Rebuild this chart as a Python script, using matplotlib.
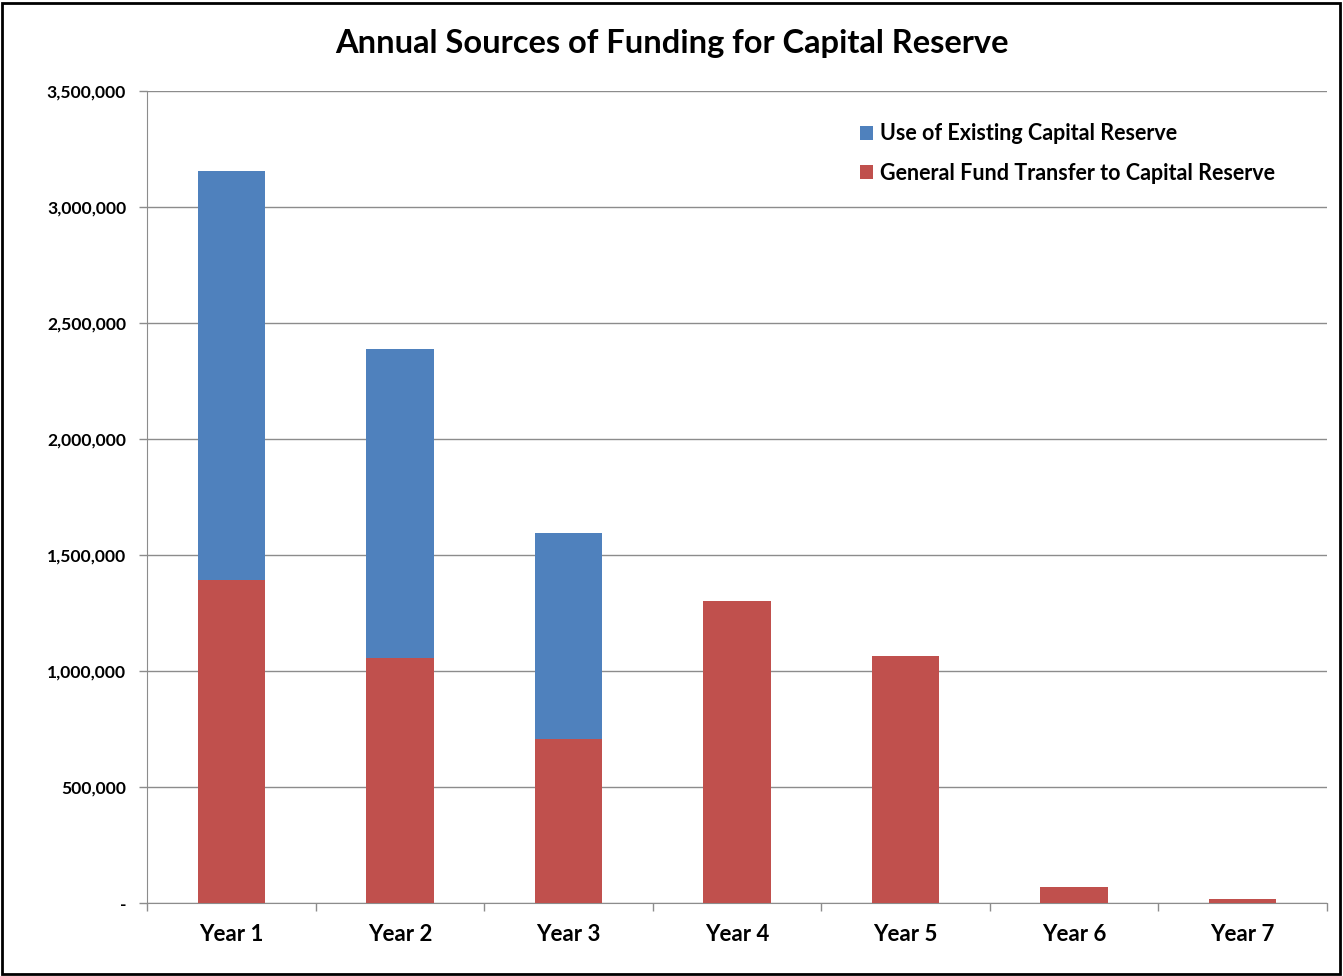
import matplotlib

matplotlib.use("Agg")
import matplotlib.pyplot as plt
from matplotlib.ticker import FuncFormatter, MultipleLocator
from matplotlib.patches import Rectangle

years = ["Year 1", "Year 2", "Year 3", "Year 4", "Year 5", "Year 6", "Year 7"]
general_fund = [1392000, 1056000, 707000, 1302000, 1065000, 69000, 16000]
existing_reserve = [1763000, 1332000, 888000, 0, 0, 0, 0]

BLUE = "#4F81BD"
RED = "#C0504D"
GRID = "#8C8C8C"

plt.rcParams["font.family"] = ["Lato", "DejaVu Sans"]
plt.rcParams["font.weight"] = "bold"

fig = plt.figure(figsize=(13.43, 9.76), dpi=100)
ax = fig.add_axes([147 / 1343, 1 - 903 / 976, 1180 / 1343, 812 / 976])

x = list(range(len(years)))
ax.bar(x, general_fund, width=0.4, color=RED, label="General Fund Transfer to Capital Reserve", zorder=3)
ax.bar(x, existing_reserve, width=0.4, bottom=general_fund, color=BLUE,
       label="Use of Existing Capital Reserve", zorder=3)

ax.set_xlim(-0.5, len(years) - 0.5)
ax.set_ylim(0, 3500000)
ax.yaxis.set_major_locator(MultipleLocator(500000))
ax.yaxis.set_major_formatter(FuncFormatter(lambda v, p: "-" if v == 0 else f"{v:,.0f}"))
ax.grid(axis="y", color=GRID, linewidth=1, zorder=0)

ax.set_xticks(x)
ax.set_xticklabels(years, fontsize=16, fontweight="bold")
ax.set_xticks([i - 0.5 for i in range(len(years) + 1)], minor=True)
ax.tick_params(axis="x", which="major", length=0, pad=15)
ax.tick_params(axis="x", which="minor", length=6, color=GRID, width=1)
ax.tick_params(axis="y", length=6, color=GRID, width=1, labelsize=12.6, pad=9)
for lbl in ax.get_yticklabels():
    lbl.set_fontweight("bold")

for side in ["top", "right"]:
    ax.spines[side].set_visible(False)
ax.spines["left"].set_color(GRID)
ax.spines["bottom"].set_color(GRID)

handles, labels = ax.get_legend_handles_labels()
ax.legend(handles[::-1], labels[::-1], loc="upper left", bbox_to_anchor=(0.588, 0.984),
          frameon=False, handlelength=0.6, handleheight=0.6,
          handletextpad=0.3, labelspacing=0.85, prop={"weight": "bold", "size": 15.5})

fig.text(0.5, 1 - 43 / 976, "Annual Sources of Funding for Capital Reserve",
         ha="center", va="center", fontsize=23.5, fontweight="bold")

fig.patches.append(Rectangle((2 / 1343, 2 / 976), 1338 / 1343, 971 / 976,
                             transform=fig.transFigure, fill=False,
                             edgecolor="black", linewidth=2))

fig.savefig("out.png", dpi=100)
